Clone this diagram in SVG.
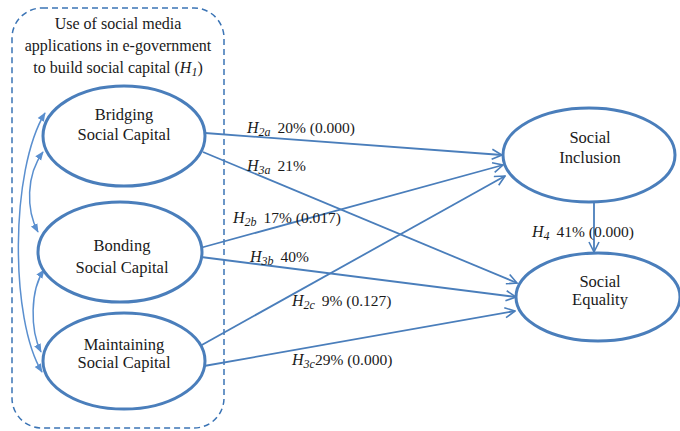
<svg xmlns="http://www.w3.org/2000/svg" width="680" height="431" viewBox="0 0 680 431">
<defs>
<style>
.node{fill:#fff;stroke:#4a7ebb;stroke-width:3}
.lbl{font-family:"Liberation Serif","Times New Roman",serif;font-size:16.5px;fill:#1a1a1a;text-anchor:middle}
.ttl{font-family:"Liberation Serif","Times New Roman",serif;font-size:16px;fill:#1a1a1a;text-anchor:middle}
.t{font-family:"Liberation Serif","Times New Roman",serif;font-size:15.5px;fill:#1a1a1a}
.it{font-style:italic;font-size:16px}
.sub{font-style:italic;font-size:12px}
.arr{fill:none;stroke:#4a7ebb;stroke-width:1.8;marker-end:url(#open)}
.cov{fill:none;stroke:#5a8fcf;stroke-width:1.5;marker-start:url(#fill);marker-end:url(#fill)}
</style>
<marker id="open" viewBox="0 0 12 12" refX="11" refY="6" markerWidth="12" markerHeight="12" markerUnits="userSpaceOnUse" orient="auto">
<path d="M1,1 L11,6 L1,11" fill="none" stroke="#4a7ebb" stroke-width="1.6"/>
</marker>
<marker id="fill" viewBox="0 0 10 10" refX="9" refY="5" markerWidth="9" markerHeight="9" markerUnits="userSpaceOnUse" orient="auto-start-reverse">
<path d="M0,1 L10,5 L0,9 Z" fill="#5a8fcf"/>
</marker>
</defs>
<rect x="0" y="0" width="680" height="431" fill="#fff"/>
<g id="group-box">
<rect x="12" y="8" width="212" height="420" rx="30" ry="30" fill="none" stroke="#3b74b5" stroke-width="1.5" stroke-dasharray="6,4"/>
<text class="ttl" x="118" y="29">Use of social media</text>
<text class="ttl" x="118" y="51">applications in e-government</text>
<text class="ttl" x="118" y="73">to build social capital (<tspan class="it">H</tspan><tspan class="sub" dy="3">1</tspan><tspan dy="-3">)</tspan></text>
</g>
<g id="connectors">
<line class="arr" x1="205" y1="133" x2="502" y2="155"/>
<line class="arr" x1="203" y1="152" x2="517" y2="283"/>
<line class="arr" x1="200" y1="248" x2="503" y2="165"/>
<line class="arr" x1="201" y1="257" x2="516" y2="297"/>
<line class="arr" x1="200" y1="346" x2="505" y2="176"/>
<line class="arr" x1="204" y1="366" x2="515" y2="311"/>
<line class="arr" x1="594" y1="202" x2="594" y2="252"/>
<path class="cov" d="M45,113 C10,170 10,320 42,372"/>
<path class="cov" d="M43,152 C26,175 26,210 38,232"/>
<path class="cov" d="M44,270 C30,290 30,330 41,352"/>
</g>
<g id="labels">
<text class="t" x="247" y="133"><tspan class="it">H</tspan><tspan class="sub" dy="3">2a</tspan><tspan dy="-3" dx="3"> 20% (0.000)</tspan></text>
<text class="t" x="247" y="171"><tspan class="it">H</tspan><tspan class="sub" dy="3">3a</tspan><tspan dy="-3" dx="3"> 21%</tspan></text>
<text class="t" x="233" y="223"><tspan class="it">H</tspan><tspan class="sub" dy="3">2b</tspan><tspan dy="-3" dx="3"> 17% (0.017)</tspan></text>
<text class="t" x="250" y="262"><tspan class="it">H</tspan><tspan class="sub" dy="3">3b</tspan><tspan dy="-3" dx="3"> 40%</tspan></text>
<text class="t" x="292" y="306"><tspan class="it">H</tspan><tspan class="sub" dy="3">2c</tspan><tspan dy="-3" dx="3"> 9% (0.127)</tspan></text>
<text class="t" x="292" y="365"><tspan class="it">H</tspan><tspan class="sub" dy="3">3c</tspan><tspan dy="-3">29% (0.000)</tspan></text>
<text class="t" x="532" y="237"><tspan class="it">H</tspan><tspan class="sub" dy="3">4</tspan><tspan dy="-3" dx="3"> 41% (0.000)</tspan></text>
</g>
<g id="node-bridging">
<ellipse class="node" cx="124" cy="136" rx="81" ry="50"/>
<text class="lbl" x="124" y="120">Bridging</text>
<text class="lbl" x="124" y="140">Social Capital</text>
</g>
<g id="node-bonding">
<ellipse class="node" cx="120" cy="252" rx="82" ry="50"/>
<text class="lbl" x="122" y="251">Bonding</text>
<text class="lbl" x="122" y="273">Social Capital</text>
</g>
<g id="node-maintaining">
<ellipse class="node" cx="124" cy="361" rx="81" ry="48"/>
<text class="lbl" x="124" y="350">Maintaining</text>
<text class="lbl" x="124" y="368">Social Capital</text>
</g>
<g id="node-inclusion">
<ellipse class="node" cx="589" cy="155" rx="86" ry="47"/>
<text class="lbl" x="590" y="143">Social</text>
<text class="lbl" x="590" y="163">Inclusion</text>
</g>
<g id="node-equality">
<ellipse class="node" cx="598" cy="297" rx="82" ry="44"/>
<text class="lbl" x="600" y="287">Social</text>
<text class="lbl" x="600" y="305">Equality</text>
</g>
</svg>
